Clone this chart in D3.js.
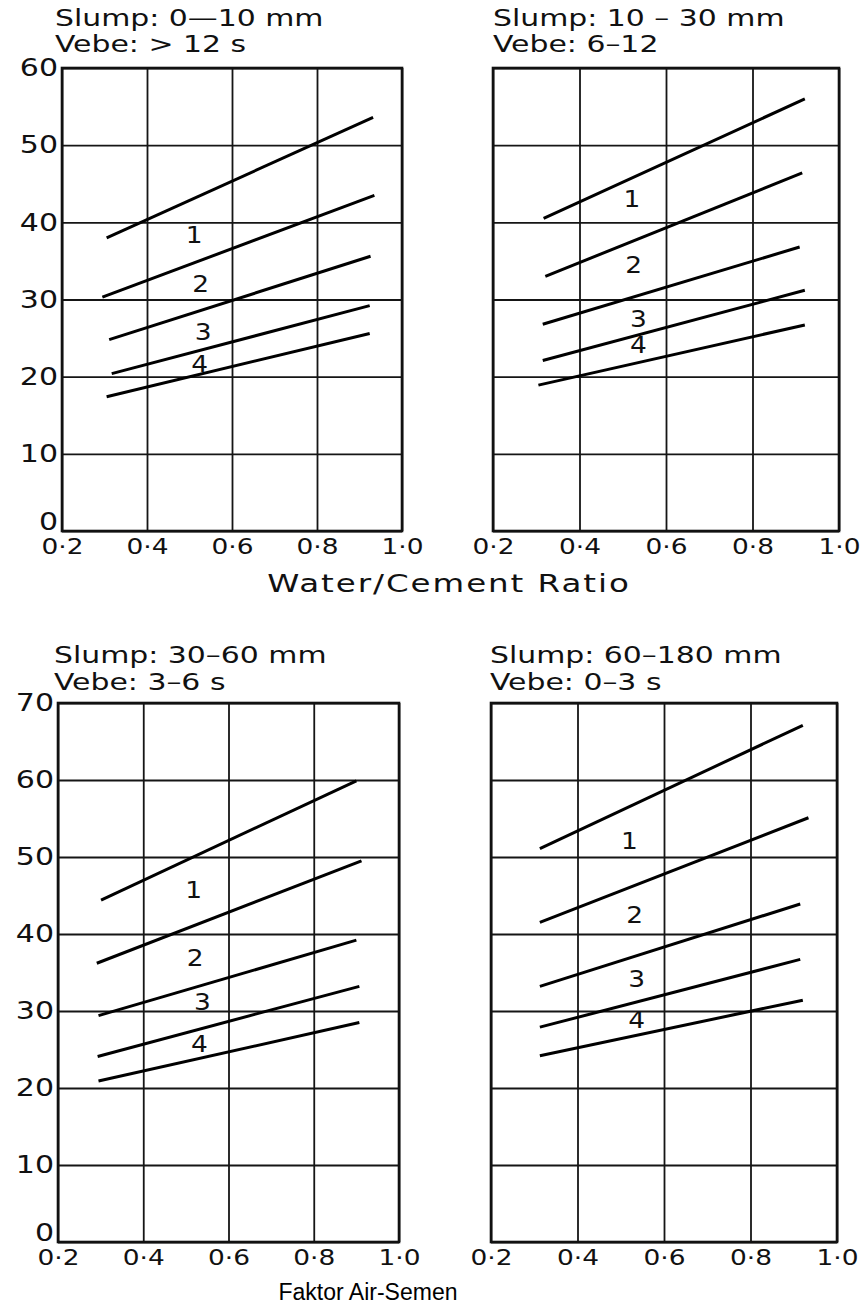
<html>
<head>
  <meta charset="utf-8">
  <style>
    body { margin: 0; background: white; }
    svg { display: block; }
    .lbl { font-family: "DejaVu Sans", sans-serif; fill: #111; }
  </style>
  <script src="https://cdn.jsdelivr.net/npm/d3@7"></script>
</head>
<body>
  <svg id="chart"></svg>
<script>
  // ---- data ----
  const xTicks = [0.2, 0.4, 0.6, 0.8, 1.0];
  const yTicksTop = [0, 10, 20, 30, 40, 50, 60];
  const yTicksBottom = [0, 10, 20, 30, 40, 50, 60, 70];
  const curveNames = ["1", "2", "3", "4"];

  const titles = [
    ["Slump: 0\u201410 mm", "Vebe: > 12 s"],
    ["Slump: 10 \u2013 30 mm", "Vebe: 6\u201312"],
    ["Slump: 30\u201360 mm", "Vebe: 3\u20136 s"],
    ["Slump: 60\u2013180 mm", "Vebe: 0\u20133 s"]
  ];

  // each line: [start, end] as [w/c ratio, strength]
  const linesSlump0to10 = [
    [[0.305, 38.0], [0.932, 53.6]],
    [[0.295, 30.3], [0.935, 43.5]],
    [[0.311, 24.8], [0.926, 35.6]],
    [[0.317, 20.4], [0.924, 29.2]],
    [[0.305, 17.4], [0.924, 25.6]]
  ];
  const linesSlump10to30 = [
    [[0.317, 40.5], [0.921, 56.0]],
    [[0.321, 33.0], [0.915, 46.4]],
    [[0.315, 26.8], [0.909, 36.8]],
    [[0.315, 22.1], [0.921, 31.2]],
    [[0.305, 18.9], [0.921, 26.7]]
  ];
  const linesSlump30to60 = [
    [[0.301, 44.4], [0.900, 59.9]],
    [[0.291, 36.2], [0.912, 49.5]],
    [[0.295, 29.4], [0.900, 39.2]],
    [[0.293, 24.1], [0.907, 33.2]],
    [[0.295, 20.9], [0.907, 28.5]]
  ];
  const linesSlump60to180 = [
    [[0.313, 51.1], [0.921, 67.1]],
    [[0.313, 41.5], [0.934, 55.1]],
    [[0.313, 33.2], [0.915, 43.9]],
    [[0.313, 27.9], [0.915, 36.7]],
    [[0.313, 24.2], [0.921, 31.4]]
  ];

  // where the numbers 1..4 sit, in data units
  const namePosSlump0to10 = [[0.511, 38.4], [0.526, 32.0], [0.532, 25.8], [0.524, 21.6]];
  const namePosSlump10to30 = [[0.521, 43.0], [0.525, 34.4], [0.536, 27.5], [0.536, 24.1]];
  const namePosSlump30to60 = [[0.518, 45.7], [0.522, 36.9], [0.539, 31.2], [0.532, 25.7]];
  const namePosSlump60to180 = [[0.520, 52.0], [0.532, 42.4], [0.537, 34.2], [0.537, 28.8]];

  // ---- layout ----
  let width = 867, height = 1314;
  let svg = d3.select("#chart").attr("width", width).attr("height", height);

  let panels = [
    { titles: titles[0], lines: linesSlump0to10, names: namePosSlump0to10, yTicks: yTicksTop,
      left: 62, right: 402, top: 68, bottom: 531, yLabels: true, titleDx: -7, titleDy: [-42, -16] },
    { titles: titles[1], lines: linesSlump10to30, names: namePosSlump10to30, yTicks: yTicksTop,
      left: 493, right: 839, top: 68, bottom: 531, yLabels: false, titleDx: 0, titleDy: [-42, -16] },
    { titles: titles[2], lines: linesSlump30to60, names: namePosSlump30to60, yTicks: yTicksBottom,
      left: 58, right: 399, top: 703, bottom: 1242, yLabels: true, titleDx: -4, titleDy: [-40, -13] },
    { titles: titles[3], lines: linesSlump60to180, names: namePosSlump60to180, yTicks: yTicksBottom,
      left: 491, right: 837, top: 703, bottom: 1242, yLabels: false, titleDx: -1, titleDy: [-40, -13] }
  ];

  function fmtRatio(d) {
    return d3.format(".1f")(d).replace(".", "\u00b7");
  }

  // the original lettering is a wide face, so widen the glyphs in place
  function stretchText(sel, sx) {
    sel.each(function() {
      let t = d3.select(this);
      let x = +t.attr("x") || 0, y = +t.attr("y") || 0;
      t.attr("x", 0).attr("y", 0)
        .attr("transform", `translate(${x},${y}) scale(${sx},1)`);
    });
  }

  function drawPanel(p) {
    let w = p.right - p.left, h = p.bottom - p.top;
    let xScale = d3.scaleLinear().domain([0.2, 1.0]).range([0, w]);
    let yScale = d3.scaleLinear().domain([0, d3.max(p.yTicks)]).range([h, 0]);

    let g = svg.append("g").attr("transform", `translate(${p.left},${p.top})`);

    // grid
    g.append("g")
      .attr("transform", `translate(0,${h})`)
      .call(d3.axisBottom(xScale).tickValues(xTicks).tickSize(-h).tickFormat(""))
      .call(a => a.select(".domain").remove())
      .call(a => a.selectAll("line").attr("stroke", "#151515").attr("stroke-width", 1.8));
    g.append("g")
      .call(d3.axisLeft(yScale).tickValues(p.yTicks).tickSize(-w).tickFormat(""))
      .call(a => a.select(".domain").remove())
      .call(a => a.selectAll("line").attr("stroke", "#151515").attr("stroke-width", 1.8));

    // frame
    g.append("rect")
      .attr("width", w).attr("height", h)
      .attr("fill", "none").attr("stroke", "#111").attr("stroke-width", 2.6);

    // x tick labels
    g.append("g")
      .attr("transform", `translate(0,${h})`)
      .call(d3.axisBottom(xScale).tickValues(xTicks).tickSize(0).tickPadding(7).tickFormat(fmtRatio))
      .call(a => a.select(".domain").remove())
      .call(a => a.selectAll("text").attr("class", "lbl").style("font-size", "22px"))
      .call(a => stretchText(a.selectAll("text"), 1.2));

    if (p.yLabels) {
      g.append("g")
        .call(d3.axisLeft(yScale).tickValues(p.yTicks).tickSize(0).tickPadding(4))
        .call(a => a.select(".domain").remove())
        .call(a => a.selectAll("text").attr("class", "lbl").style("font-size", "24px")
          .attr("dy", d => d == 0 ? "-0.05em" : "0.32em"))
        .call(a => stretchText(a.selectAll("text"), 1.25));
    }

    // curves
    let line = d3.line().x(d => xScale(d[0])).y(d => yScale(d[1]));
    g.selectAll(".curve").data(p.lines).enter().append("path")
      .attr("class", "curve")
      .attr("d", line)
      .attr("fill", "none").attr("stroke", "#000").attr("stroke-width", 3);

    let names = g.selectAll(".name").data(p.names).enter().append("text")
      .attr("class", "lbl")
      .attr("x", d => xScale(d[0]))
      .attr("y", d => yScale(d[1]))
      .attr("text-anchor", "middle")
      .attr("dominant-baseline", "central")
      .style("font-size", "23px")
      .text((d, i) => curveNames[i]);
    stretchText(names, 1.15);

    // titles
    let ttl = g.selectAll(".ttl").data(p.titles).enter().append("text")
      .attr("class", "lbl")
      .attr("x", p.titleDx)
      .attr("y", (d, i) => p.titleDy[i])
      .style("font-size", "23px")
      .text(d => d);
    stretchText(ttl, 1.3);
  }

  panels.forEach(drawPanel);

  let axisTitle = svg.append("text")
    .attr("class", "lbl")
    .attr("x", 449).attr("y", 592)
    .attr("text-anchor", "middle")
    .style("font-size", "25px")
    .style("letter-spacing", "1.5px")
    .text("Water/Cement Ratio");
  stretchText(axisTitle, 1.3);

  svg.append("text")
    .attr("x", 368).attr("y", 1300)
    .attr("text-anchor", "middle")
    .style("font-family", "'Liberation Sans', Arial, sans-serif")
    .style("font-size", "23px")
    .text("Faktor Air-Semen");
</script>
</body>
</html>
